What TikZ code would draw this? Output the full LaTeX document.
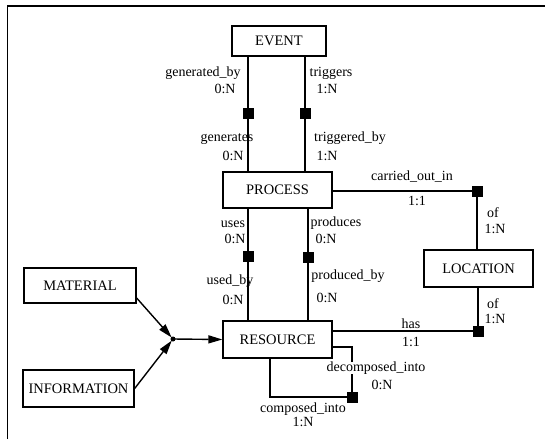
\documentclass[tikz,border=0pt]{standalone}
\usepackage{fontspec}
\setmainfont{Liberation Serif}
\newfontfamily\erfont{Liberation Serif}
\usetikzlibrary{arrows.meta}
\begin{document}
\begin{tikzpicture}[x=1pt,y=-1pt,
  ent/.style={draw,line width=1.3pt,inner sep=0pt,font=\erfont\fontsize{14.5}{16}\selectfont},
  lbl/.style={inner sep=0pt,font=\erfont\fontsize{14}{16}\selectfont,text height=9.5pt,text depth=2.5pt},
  sq/.style={fill=black,draw=none,minimum size=11pt,inner sep=0pt},
  rel/.style={line width=1.2pt},
  arr/.style={line width=1.4pt,-{Triangle[length=14pt,width=8pt]}},
  frame/.style={line width=1.8pt}]
\useasboundingbox (0,0) rectangle (545,439);
\coordinate (f1) at (7.5,439);
\coordinate (f2) at (7.5,6);
\coordinate (f3) at (545,6);
\draw[frame] (f1) -- (f2) -- (f3);
% entities
\node[ent,minimum width=94pt,minimum height=30pt] (event) at (279,41) {EVENT};
\node[ent,minimum width=109pt,minimum height=36pt] (process) at (277.5,190) {PROCESS};
\node[ent,minimum width=109pt,minimum height=37pt] (resource) at (277.5,339.5) {RESOURCE};
\node[ent,minimum width=109pt,minimum height=37pt] (location) at (478.5,268.5) {LOCATION};
\node[ent,minimum width=112pt,minimum height=35pt] (material) at (80,285.5) {MATERIAL};
\node[ent,minimum width=111pt,minimum height=37pt] (information) at (78.5,388.5) {INFORMATION};
% squares
\node[sq] (s1) at (248,113) {};
\node[sq] (s2) at (305,113) {};
\node[sq] (s3) at (248,256) {};
\node[sq] (s4) at (308,257) {};
\node[sq] (s5) at (477,191) {};
\node[sq] (s6) at (478,331) {};
\node[sq] (s7) at (352,397) {};
\coordinate (l1) at (352,347);
\coordinate (l2) at (270,397);
\coordinate (j) at (173,339);
% relations
\draw[rel] (event.south -| s1) -- (s1.center) -- (process.north -| s1);
\draw[rel] (event.south -| s2) -- (s2.center) -- (process.north -| s2);
\draw[rel] (process.south -| s3) -- (s3.center) -- (resource.north -| s3);
\draw[rel] (process.south -| s4) -- (s4.center) -- (resource.north -| s4);
\draw[rel] (process.east |- s5) -- (s5.center) -- (location.north -| s5);
\draw[rel] (resource.east |- s6) -- (s6.center) -- (location.south -| s6);
\draw[rel] (resource.east |- l1) -| (s7.center) -| (resource.south -| l2);
% arrows
\draw[arr,shorten >=2pt] ([yshift=-12.5pt]material.east) -- (j);
\draw[arr,shorten >=2pt] (information.east) -- (j);
\draw[arr] (j) -- (resource.west);
\fill (j) circle (2.5pt);
% labels
\node[lbl] (t1) at (203,73) {generated\_by};
\node[lbl] (t2) at (225,90) {0:N};
\node[lbl] (t3) at (331,73) {triggers};
\node[lbl] (t4) at (327,90) {1:N};
\node[lbl] (t5) at (227,138) {generates};
\node[lbl] (t6) at (233,157) {0:N};
\node[lbl] (t7) at (350,138) {triggered\_by};
\node[lbl] (t8) at (327,157) {1:N};
\node[lbl] (t9) at (233,224) {uses};
\node[lbl] (t10) at (235,240) {0:N};
\node[lbl] (t11) at (336,223) {produces};
\node[lbl] (t12) at (326,240) {0:N};
\node[lbl] (t13) at (230,281) {used\_by};
\node[lbl] (t14) at (233,301) {0:N};
\node[lbl] (t15) at (348,276) {produced\_by};
\node[lbl] (t16) at (327,299) {0:N};
\node[lbl] (t17) at (412,177) {carried\_out\_in};
\node[lbl] (t18) at (417,202) {1:1};
\node[lbl] (t19) at (493,214) {of};
\node[lbl] (t20) at (495,230) {1:N};
\node[lbl] (t21) at (493,305) {of};
\node[lbl] (t22) at (495,320) {1:N};
\node[lbl] (t23) at (411,325) {has};
\node[lbl] (t24) at (411,343) {1:1};
\node[lbl,fill=white,inner xsep=1pt] (t25) at (376,368) {decomposed\_into};
\node[lbl] (t26) at (382,386) {0:N};
\node[lbl] (t27) at (303,409) {composed\_into};
\node[lbl] (t28) at (303,423) {1:N};
\end{tikzpicture}
\end{document}
